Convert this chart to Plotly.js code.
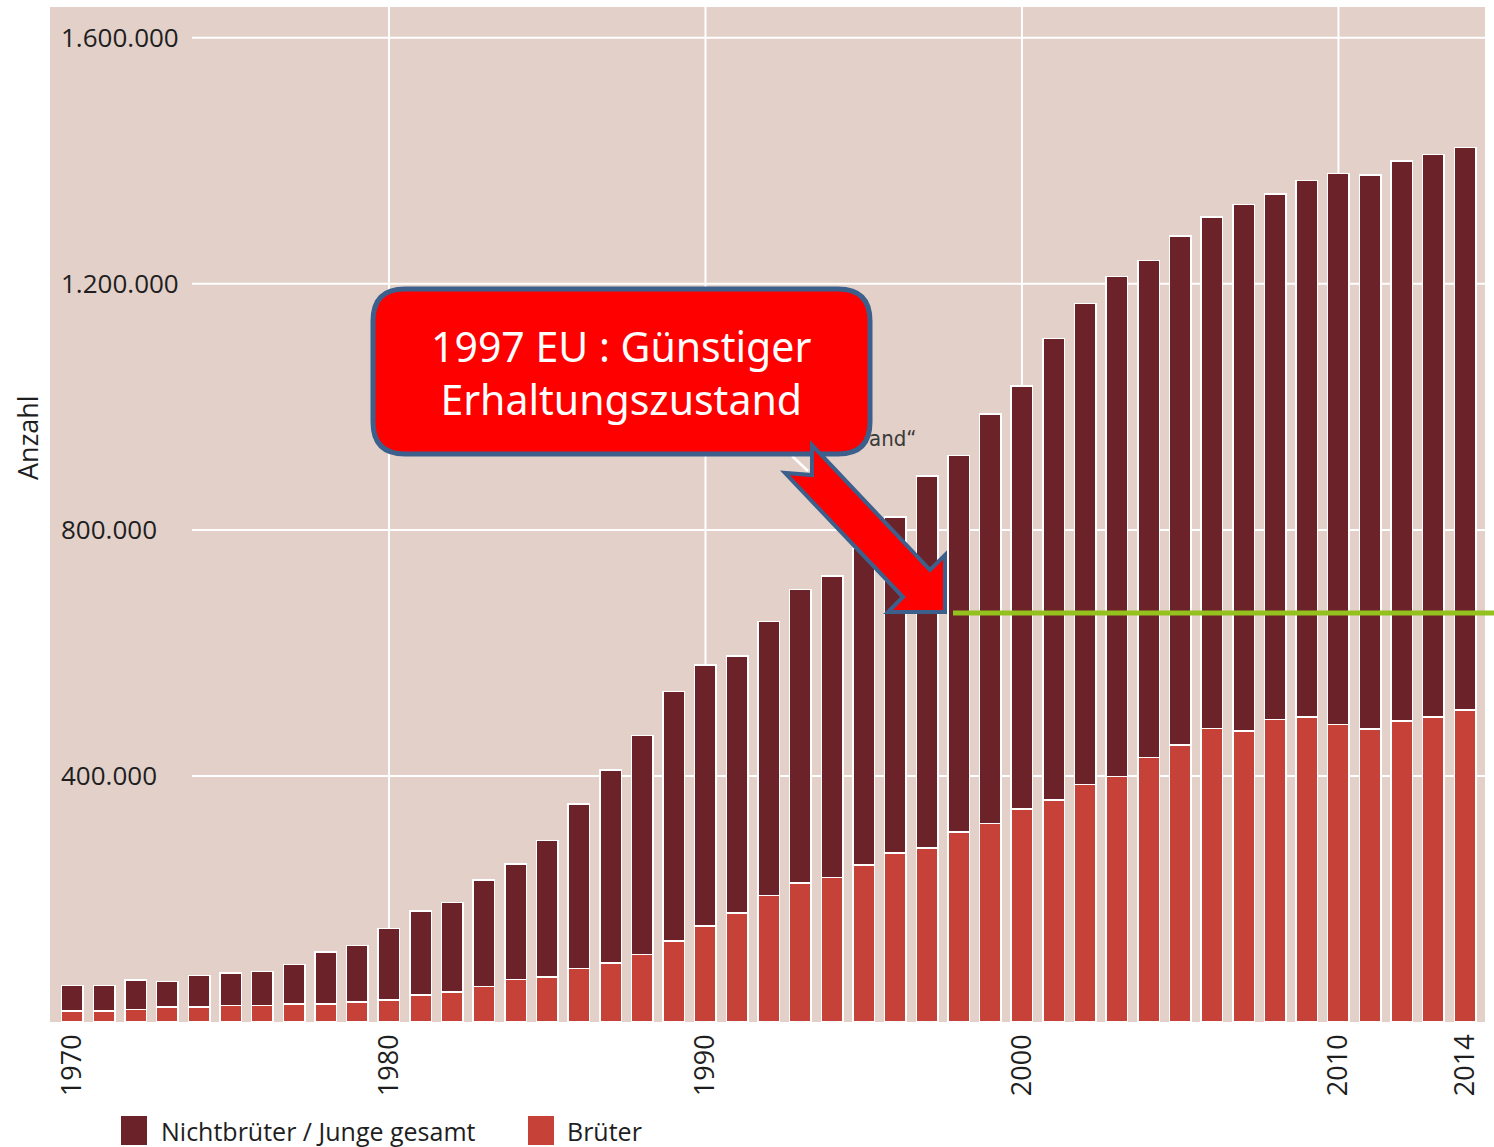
<!DOCTYPE html>
<html>
<head>
<meta charset="utf-8">
<script src="https://cdn.plot.ly/plotly-3.0.1.min.js"></script>
<style>
  html, body { margin: 0; padding: 0; background: #ffffff; }
  #chart { width: 1494px; height: 1147px; }
</style>
</head>
<body>
<div id="chart"></div>
<script>
// ---------- data ----------
const years = [1970,1971,1972,1973,1974,1975,1976,1977,1978,1979,
               1980,1981,1982,1983,1984,1985,1986,1987,1988,1989,
               1990,1991,1992,1993,1994,1995,1996,1997,1998,1999,
               2000,2001,2002,2003,2004,2005,2006,2007,2008,2009,
               2010,2011,2012,2013,2014];

const brueter = [17800,17800,20500,24000,24000,27000,27000,29500,29500,32500,
                 36000,44000,49000,58000,69000,73000,87000,96000,110000,132000,
                 156000,177000,206000,226000,235000,255000,275000,283000,309000,323000,
                 346000,361000,386000,399000,430000,450000,477000,473000,492000,496000,
                 484000,476000,489000,496000,507000];

const nichtbrueter = [41700,41700,47500,41500,52000,52500,55000,64000,84000,91500,
                      116000,136500,145500,173000,188000,222000,267000,314000,356000,405000,
                      424000,418000,445000,477000,490000,515000,546000,605000,612000,665000,
                      688000,750000,782000,813000,808000,828000,832000,856000,854000,872000,
                      895000,901000,911000,914000,915000];

const seriesNames = ["Nichtbrüter / Junge gesamt", "Brüter"];
const xTickVals = [1970, 1980, 1990, 2000, 2010, 2014];
const xTickText = ["1970", "1980", "1990", "2000", "2010", "2014"];
const xGridYears = [1980, 1990, 2000, 2010];
const yTickVals = [400000, 800000, 1200000, 1600000];
const yAxisTitle = "Anzahl";
const calloutText = "1997 EU : Günstiger<br>Erhaltungszustand";
const leftoverText = "and\u201C";
const targetLevel = 665000;   // green reference line (Anzahl)

// ---------- geometry helpers (pixel -> paper) ----------
const L = 50, R = 1485, T = 7, B = 1022;
function px(x) { return (x - L) / (R - L); }
function py(y) { return (B - y) / (B - T); }
function pathFromPx(points) {
  return points.map((p, i) => (i === 0 ? 'M' : 'L') + px(p[0]).toFixed(5) + ',' + py(p[1]).toFixed(5)).join(' ') + ' Z';
}
function roundRectPath(x0, y0, x1, y1, r) {
  const P = (x, y) => px(x).toFixed(5) + ',' + py(y).toFixed(5);
  return 'M' + P(x0 + r, y0) +
    ' L' + P(x1 - r, y0) + ' Q' + P(x1, y0) + ' ' + P(x1, y0 + r) +
    ' L' + P(x1, y1 - r) + ' Q' + P(x1, y1) + ' ' + P(x1 - r, y1) +
    ' L' + P(x0 + r, y1) + ' Q' + P(x0, y1) + ' ' + P(x0, y1 - r) +
    ' L' + P(x0, y0 + r) + ' Q' + P(x0, y0) + ' ' + P(x0 + r, y0) + ' Z';
}

const colDark = '#6b2329';
const colRed = '#c64137';
const colBg = '#e2d0c9';
const colBorder = '#3d5f8c';
const textCol = '#1e1e1e';

const traces = [
  {
    type: 'bar', name: seriesNames[1], x: years, y: brueter,
    marker: { color: colRed, line: { color: '#ffffff', width: 1.5 } },
    hoverinfo: 'x+y+name'
  },
  {
    type: 'bar', name: seriesNames[0], x: years, y: nichtbrueter,
    marker: { color: colDark, line: { color: '#ffffff', width: 1.5 } },
    hoverinfo: 'x+y+name'
  }
];

const shapes = [];
// horizontal grid lines (start right of the inside tick labels)
yTickVals.forEach(v => shapes.push({
  type: 'line', layer: 'below', xref: 'paper', yref: 'y',
  x0: px(192), x1: 1, y0: v, y1: v,
  line: { color: '#ffffff', width: 2 }
}));
// vertical grid lines
xGridYears.forEach(v => shapes.push({
  type: 'line', layer: 'below', xref: 'x', yref: 'paper',
  x0: v, x1: v, y0: 0, y1: 1,
  line: { color: '#ffffff', width: 2 }
}));
// green reference line
shapes.push({
  type: 'line', xref: 'paper', yref: 'y',
  x0: px(953), x1: px(1494), y0: targetLevel, y1: targetLevel,
  line: { color: '#95c11f', width: 5 }
});
// leftover white leader line
shapes.push({
  type: 'line', xref: 'paper', yref: 'paper',
  x0: px(792), y0: py(456), x1: px(808), y1: py(471),
  line: { color: '#ffffff', width: 2.5 }
});
// callout box
shapes.push({
  type: 'path', xref: 'paper', yref: 'paper',
  path: roundRectPath(373, 289, 870, 454, 32),
  fillcolor: '#ff0000', line: { color: colBorder, width: 5 }
});
// block arrow
shapes.push({
  type: 'path', xref: 'paper', yref: 'paper',
  path: pathFromPx([[812,445],[812,475],[785,473],[903,597],[888,612],[945,612],[945,555],[930,570]]),
  fillcolor: '#ff0000', line: { color: colBorder, width: 4 }
});
// custom legend squares
shapes.push({
  type: 'rect', xref: 'paper', yref: 'paper',
  x0: px(121), x1: px(147), y0: py(1145), y1: py(1116),
  fillcolor: colDark, line: { width: 0 }
});
shapes.push({
  type: 'rect', xref: 'paper', yref: 'paper',
  x0: px(528), x1: px(554), y0: py(1145), y1: py(1116),
  fillcolor: colRed, line: { width: 0 }
});

const legendFont = { family: '"Open Sans", "Noto Sans", sans-serif', size: 25, color: textCol };

const annotations = [
  {
    xref: 'paper', yref: 'paper', x: px(27), y: py(438),
    text: yAxisTitle, textangle: -90, showarrow: false,
    xanchor: 'center', yanchor: 'middle',
    font: { family: '"Open Sans", "Noto Sans", sans-serif', size: 27, color: textCol }
  },
  {
    xref: 'paper', yref: 'paper', x: px(621), y: py(372),
    text: calloutText, showarrow: false, align: 'center',
    xanchor: 'center', yanchor: 'middle',
    font: { family: '"Noto Sans", "Open Sans", sans-serif', size: 41, color: '#ffffff' }
  },
  {
    xref: 'paper', yref: 'paper', x: px(867), y: py(438),
    text: leftoverText, showarrow: false,
    xanchor: 'left', yanchor: 'middle',
    font: { family: '"Liberation Sans Narrow", "DejaVu Sans Condensed", sans-serif', size: 22, color: '#3a3a3a' }
  },
  {
    xref: 'paper', yref: 'paper', x: px(159), y: py(1131),
    text: seriesNames[0], showarrow: false,
    xanchor: 'left', yanchor: 'middle', font: legendFont
  },
  {
    xref: 'paper', yref: 'paper', x: px(565), y: py(1131),
    text: seriesNames[1], showarrow: false,
    xanchor: 'left', yanchor: 'middle', font: legendFont
  }
];

const layout = {
  width: 1494, height: 1147,
  margin: { l: L, r: 1494 - R, t: T, b: 1147 - B, pad: 0 },
  paper_bgcolor: '#ffffff',
  plot_bgcolor: colBg,
  barmode: 'stack',
  bargap: 0.32,
  showlegend: false,
  separators: ',.',
  xaxis: {
    range: [1969.29, 2014.63],
    tickmode: 'array', tickvals: xTickVals, ticktext: xTickText,
    tickangle: -90, ticks: '', showgrid: false, zeroline: false, showline: false,
    ticklabelstandoff: 6, ticklabeloverflow: 'allow',
    tickfont: { family: '"Open Sans", "Noto Sans", sans-serif', size: 27, color: textCol },
    fixedrange: true
  },
  yaxis: {
    range: [0, 1650000],
    tickmode: 'array', tickvals: yTickVals, tickformat: ',d',
    ticklabelposition: 'inside', ticks: '', ticklabelstandoff: 8,
    ticklabeloverflow: 'allow',
    showgrid: false, zeroline: false, showline: false,
    tickfont: { family: '"Open Sans", "Noto Sans", sans-serif', size: 26, color: textCol },
    fixedrange: true
  },
  shapes: shapes,
  annotations: annotations
};

Plotly.newPlot('chart', traces, layout, { displayModeBar: false, staticPlot: true });
</script>
</body>
</html>
